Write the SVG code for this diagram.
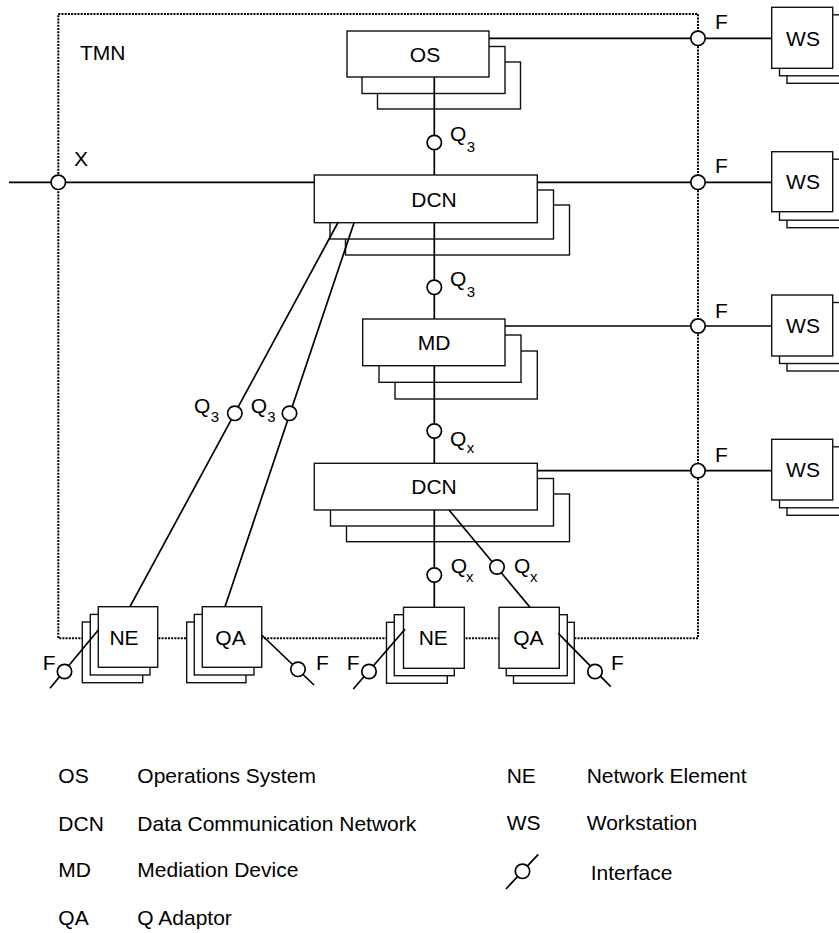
<svg xmlns="http://www.w3.org/2000/svg" width="839" height="933" viewBox="0 0 839 933">
<style>
.bg{fill:#fff}
.border{fill:none;stroke:#000;stroke-width:2;stroke-dasharray:2 1.2}
.box{fill:#fff;stroke:#111;stroke-width:1.4}
.ln{fill:none;stroke:#000;stroke-width:1.7}
.ic{fill:#fff;stroke:#000;stroke-width:1.7}
text{font-family:"Liberation Sans",Arial,Helvetica,sans-serif;font-size:21px;fill:#000}
.c{text-anchor:middle}
.sub{font-size:15px}
</style>
<rect class="bg" x="0" y="0" width="839" height="933"/>
<g id="tmn-boundary">
<rect class="border" x="58.3" y="14" width="639.7" height="624.3"/>
<text x="80" y="60">TMN</text>
</g>
<g id="node-os">
<rect class="box" x="377.5" y="62" width="143" height="47"/>
<rect class="box" x="362" y="46.5" width="143" height="47"/>
<rect class="box" x="347" y="31" width="142" height="46"/>
<text class="c" x="425" y="62.3">OS</text>
</g>
<g id="node-dcn1">
<rect class="box" x="345.5" y="205" width="224" height="50"/>
<rect class="box" x="330" y="190" width="223.5" height="49"/>
<rect class="box" x="314.3" y="175" width="223" height="47.7"/>
<text class="c" x="434" y="206.7">DCN</text>
</g>
<g id="node-md">
<rect class="box" x="395" y="351" width="142.3" height="48"/>
<rect class="box" x="379" y="335" width="142" height="47.3"/>
<rect class="box" x="362.7" y="319" width="142.3" height="46.7"/>
<text class="c" x="434" y="350">MD</text>
</g>
<g id="node-dcn2">
<rect class="box" x="346.5" y="494" width="223" height="47.7"/>
<rect class="box" x="330.5" y="478.5" width="223" height="47.5"/>
<rect class="box" x="314.3" y="463.3" width="223" height="46.7"/>
<text class="c" x="434" y="494">DCN</text>
</g>
<g id="node-ws1">
<rect class="box" x="787" y="22.3" width="61" height="61"/>
<rect class="box" x="779.5" y="14.8" width="61" height="61"/>
<rect class="box" x="771.7" y="7.3" width="61" height="61"/>
<text class="c" x="803" y="45.7">WS</text>
</g>
<g id="node-ws2">
<rect class="box" x="787" y="166.7" width="61" height="61"/>
<rect class="box" x="779.5" y="159.2" width="61" height="61"/>
<rect class="box" x="771.7" y="151.7" width="61" height="60"/>
<text class="c" x="803" y="189.3">WS</text>
</g>
<g id="node-ws3">
<rect class="box" x="787" y="310" width="61" height="61"/>
<rect class="box" x="779.5" y="302.5" width="61" height="61"/>
<rect class="box" x="771.7" y="295" width="61" height="61"/>
<text class="c" x="803" y="333.3">WS</text>
</g>
<g id="node-ws4">
<rect class="box" x="787" y="454.3" width="61" height="61"/>
<rect class="box" x="779.5" y="446.8" width="61" height="61"/>
<rect class="box" x="771.7" y="439.3" width="61" height="60.7"/>
<text class="c" x="803" y="477.3">WS</text>
</g>
<g id="node-ne1">
<rect class="box" x="82.3" y="622" width="60.4" height="60.7"/>
<rect class="box" x="90.3" y="614.4" width="59.7" height="60.6"/>
<rect class="box" x="98.3" y="606.7" width="59.4" height="60.6"/>
<text class="c" x="124" y="645">NE</text>
</g>
<g id="node-qa1">
<rect class="box" x="186.7" y="622" width="59.3" height="60.7"/>
<rect class="box" x="194.3" y="614.4" width="59.7" height="60.6"/>
<rect class="box" x="202.3" y="606.7" width="59.4" height="60.6"/>
<text class="c" x="230.5" y="645">QA</text>
</g>
<g id="node-ne2">
<rect class="box" x="386.5" y="622.3" width="60.8" height="61"/>
<rect class="box" x="394.3" y="614.7" width="60" height="61"/>
<rect class="box" x="403.5" y="607.3" width="60.8" height="61"/>
<text class="c" x="433.3" y="645">NE</text>
</g>
<g id="node-qa2">
<rect class="box" x="513.5" y="622.3" width="60.8" height="61"/>
<rect class="box" x="506.3" y="614.7" width="61" height="61"/>
<rect class="box" x="499" y="607.3" width="60.3" height="61"/>
<text class="c" x="528.3" y="645">QA</text>
</g>
<g id="connectors">
<line class="ln" x1="434.3" y1="77" x2="434.3" y2="175"/>
<line class="ln" x1="489" y1="38.3" x2="771.7" y2="38.3"/>
<line class="ln" x1="9" y1="182.3" x2="314.3" y2="182.3"/>
<line class="ln" x1="537.3" y1="182.3" x2="771.7" y2="182.3"/>
<line class="ln" x1="434.3" y1="222.7" x2="434.3" y2="319"/>
<line class="ln" x1="505" y1="326" x2="771.7" y2="326"/>
<line class="ln" x1="434.3" y1="365.7" x2="434.3" y2="463.3"/>
<line class="ln" x1="537.3" y1="470.7" x2="771.7" y2="470.7"/>
<line class="ln" x1="338.3" y1="222" x2="130" y2="606.7"/>
<line class="ln" x1="354.3" y1="222" x2="225" y2="606.7"/>
<line class="ln" x1="434.3" y1="510" x2="434.3" y2="607.3"/>
<line class="ln" x1="449" y1="510" x2="530" y2="607.3"/>
<line class="ln" x1="50" y1="688.3" x2="98.3" y2="630"/>
<line class="ln" x1="261.7" y1="635" x2="314" y2="685"/>
<line class="ln" x1="353.3" y1="689" x2="405" y2="629.3"/>
<line class="ln" x1="558.3" y1="633.3" x2="610.7" y2="686.7"/>
<circle class="ic" cx="434.3" cy="142.5" r="7.2"/>
<circle class="ic" cx="698" cy="38.3" r="7.2"/>
<circle class="ic" cx="58.3" cy="182.3" r="7.2"/>
<circle class="ic" cx="698" cy="182.3" r="7.2"/>
<circle class="ic" cx="434.3" cy="287.3" r="7.2"/>
<circle class="ic" cx="698" cy="326" r="7.2"/>
<circle class="ic" cx="434.3" cy="431" r="7.2"/>
<circle class="ic" cx="698" cy="470.7" r="7.2"/>
<circle class="ic" cx="234.8" cy="413.3" r="7.2"/>
<circle class="ic" cx="289.5" cy="413.3" r="7.2"/>
<circle class="ic" cx="434.3" cy="575" r="7.2"/>
<circle class="ic" cx="497" cy="567" r="7.2"/>
<circle class="ic" cx="64.5" cy="671.5" r="7.2"/>
<circle class="ic" cx="298" cy="669.3" r="7.2"/>
<circle class="ic" cx="369" cy="671.5" r="7.2"/>
<circle class="ic" cx="595" cy="671.5" r="7.2"/>
<text x="450" y="141">Q<tspan class="sub" x="466.7" y="151.5">3</tspan></text>
<text x="715" y="29.3">F</text>
<text x="74" y="166">X</text>
<text x="715" y="173.3">F</text>
<text x="450" y="286.2">Q<tspan class="sub" x="466.7" y="296.7">3</tspan></text>
<text x="715" y="317.7">F</text>
<text x="450" y="445.7">Q<tspan class="sub" x="466.7" y="453.3">x</tspan></text>
<text x="715" y="461.7">F</text>
<text x="194" y="413">Q<tspan class="sub" x="210.7" y="421.7">3</tspan></text>
<text x="250.7" y="413">Q<tspan class="sub" x="267.3" y="421.7">3</tspan></text>
<text x="450.7" y="573.3">Q<tspan class="sub" x="466" y="581.7">x</tspan></text>
<text x="514" y="573.3">Q<tspan class="sub" x="530" y="581.7">x</tspan></text>
<text x="42.7" y="670">F</text>
<text x="316" y="670">F</text>
<text x="346.7" y="670">F</text>
<text x="611" y="670">F</text>
</g>
<g id="legend">
<text x="58.3" y="783">OS</text>
<text x="137.3" y="783">Operations System</text>
<text x="58.3" y="830.7">DCN</text>
<text x="137.3" y="830.7">Data Communication Network</text>
<text x="58.3" y="877.3">MD</text>
<text x="137.3" y="877.3">Mediation Device</text>
<text x="58.3" y="924.5">QA</text>
<text x="137.3" y="924.5">Q Adaptor</text>
<text x="506.7" y="783">NE</text>
<text x="586.7" y="783">Network Element</text>
<text x="506.7" y="830.3">WS</text>
<text x="586.7" y="830.3">Workstation</text>
<line class="ln" x1="506" y1="889" x2="538.3" y2="854.3"/>
<circle class="ic" cx="522.5" cy="871.3" r="7.2"/>
<text x="590.7" y="880">Interface</text>
</g>
</svg>
